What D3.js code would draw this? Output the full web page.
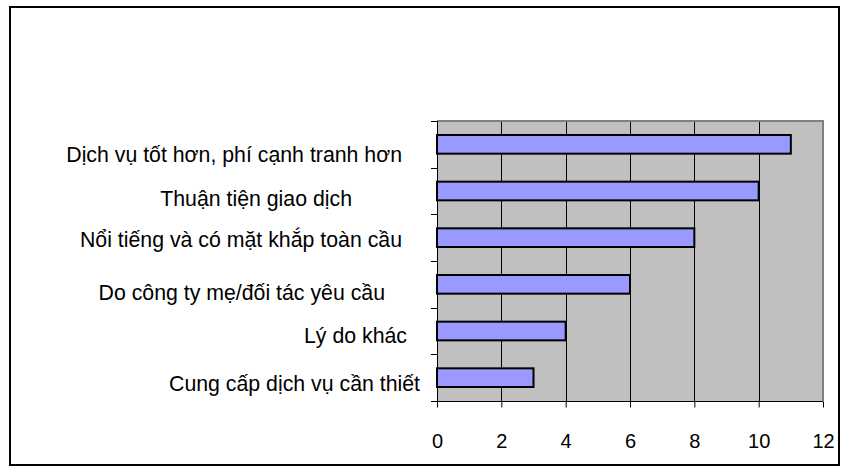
<!DOCTYPE html>
<html>
<head>
<meta charset="utf-8">
<script src="https://cdn.jsdelivr.net/npm/d3@7"></script>
<style>
  html, body { margin: 0; padding: 0; background: #fff; }
  svg { display: block; font-family: "Liberation Sans", Arial, sans-serif; }
</style>
</head>
<body>
<svg id="chart" width="848" height="472"></svg>
<script>
// Reasons for choosing a bank (top to bottom)
const categories = [
  "Dịch vụ tốt hơn, phí cạnh tranh hơn",
  "Thuận tiện giao dịch",
  "Nổi tiếng và có mặt khắp toàn cầu",
  "Do công ty mẹ/đối tác yêu cầu",
  "Lý do khác",
  "Cung cấp dịch vụ cần thiết"
];
const values = [11, 10, 8, 6, 4, 3];
const xTicks = [0, 2, 4, 6, 8, 10, 12];

// Per-label placement relative to the axis line / band centre
const labelShift = [
  { dx: -35, dy: 17.4 },
  { dx: -85, dy: 14.7 },
  { dx: -35, dy: 9.0 },
  { dx: -52, dy: 15.7 },
  { dx: -30, dy: 12.0 },
  { dx: -17, dy: 13.3 }
];

const svg = d3.select("#chart");
const plot = { left: 437, top: 121, right: 823, bottom: 401 };

// Outer frame
svg.append("rect")
  .attr("x", 10).attr("y", 7)
  .attr("width", 829).attr("height", 458)
  .attr("fill", "#fff").attr("stroke", "#000").attr("stroke-width", 2);

const x = d3.scaleLinear().domain([0, 12]).range([plot.left, plot.right]);
const y = d3.scaleBand().domain(categories)
  .range([plot.top, plot.bottom])
  .paddingInner(0.6).paddingOuter(0.3);

// Plot area background
svg.append("rect")
  .attr("x", plot.left).attr("y", plot.top)
  .attr("width", plot.right - plot.left).attr("height", plot.bottom - plot.top)
  .attr("fill", "#c0c0c0");

// Vertical gridlines
svg.append("g").selectAll("line")
  .data(xTicks.filter(d => d > 0 && d < 12))
  .join("line")
  .attr("x1", d => Math.round(x(d)) + 0.5).attr("x2", d => Math.round(x(d)) + 0.5)
  .attr("y1", plot.top).attr("y2", plot.bottom)
  .attr("stroke", "#000").attr("stroke-width", 1);

// Top and right border of plot area
svg.append("path")
  .attr("d", `M${plot.left},${plot.top}H${plot.right}V${plot.bottom}`)
  .attr("fill", "none").attr("stroke", "#808080").attr("stroke-width", 2);

// Bars
svg.append("g").selectAll("rect")
  .data(values)
  .join("rect")
  .attr("x", x(0))
  .attr("y", (d, i) => y(categories[i]))
  .attr("width", d => x(d) - x(0))
  .attr("height", y.bandwidth())
  .attr("fill", "#9999ff")
  .attr("stroke", "#000").attr("stroke-width", 2);

// Bottom axis
const xAxis = d3.axisBottom(x).tickValues(xTicks).tickSize(6).tickPadding(26)
  .tickFormat(d3.format("d"));
const gx = svg.append("g")
  .attr("transform", `translate(0,${plot.bottom + 0.5})`)
  .call(xAxis);
gx.select(".domain").attr("stroke", "#000").attr("d", `M${plot.left},0H${plot.right}`);
gx.selectAll(".tick line").attr("stroke", "#000");
gx.selectAll(".tick text")
  .attr("font-family", "Liberation Sans, Arial, sans-serif")
  .attr("font-size", 20).attr("fill", "#000");

// Left axis line and category-boundary ticks
const boundaries = d3.range(categories.length + 1)
  .map(i => plot.top + i * y.step());
svg.append("line")
  .attr("x1", plot.left + 0.5).attr("x2", plot.left + 0.5)
  .attr("y1", plot.top).attr("y2", plot.bottom + 1)
  .attr("stroke", "#000");
svg.append("g").selectAll("line")
  .data(boundaries)
  .join("line")
  .attr("x1", plot.left - 6).attr("x2", plot.left)
  .attr("y1", d => Math.round(d) + 0.5).attr("y2", d => Math.round(d) + 0.5)
  .attr("stroke", "#000");

// Category labels
svg.append("g").selectAll("text")
  .data(categories)
  .join("text")
  .attr("x", (d, i) => plot.left + labelShift[i].dx)
  .attr("y", (d, i) => y(d) + y.bandwidth() / 2 + labelShift[i].dy)
  .attr("text-anchor", "end")
  .attr("font-size", 21.3)
  .attr("fill", "#000")
  .text(d => d);
</script>
</body>
</html>
